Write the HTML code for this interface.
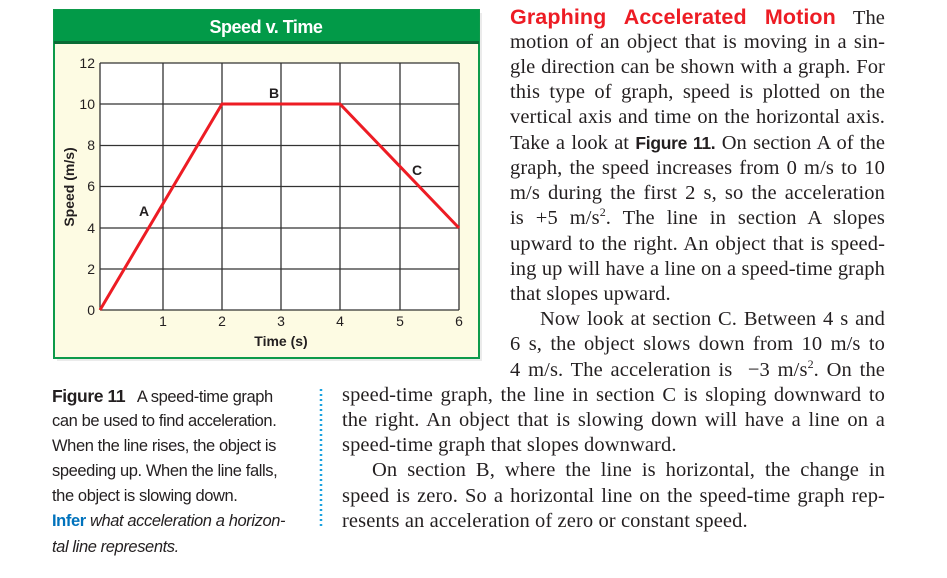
<!DOCTYPE html>
<html><head><meta charset="utf-8"><style>
body{margin:0;width:947px;height:578px;background:#fff;position:relative;overflow:hidden;font-family:"Liberation Serif",serif;color:#231f20}
.l{position:absolute;font-size:20.5px;line-height:25px;white-space:nowrap;text-align:justify;text-align-last:justify;letter-spacing:0.1px}
.r{left:510px;width:375px}
.w{left:342px;width:543px}
.nj{text-align-last:left}
.c{position:absolute;left:52px;font-family:"Liberation Sans",sans-serif;font-size:16.5px;line-height:25px;white-space:nowrap;letter-spacing:-0.4px}
.sf{font-family:"Liberation Sans",sans-serif;font-weight:bold}
</style></head><body>
<svg width="947" height="578" style="position:absolute;left:0;top:0">
<rect x="57" y="13" width="425" height="348" fill="#ddd" opacity="0.6"/>
<rect x="54" y="10" width="425" height="348" fill="#fdfbe3" stroke="#0d9a4a" stroke-width="2"/>
<rect x="54" y="10" width="425" height="33" fill="#029a48"/>
<rect x="54" y="41" width="425" height="3" fill="#0a6b35"/>
<text x="266" y="33" text-anchor="middle" font-family="Liberation Sans" font-weight="bold" font-size="18" fill="#fff" letter-spacing="-0.5">Speed v. Time</text>
<rect x="100" y="63" width="359" height="247" fill="#fff"/>
<g stroke="#333" stroke-width="1.3">
<line x1="100" y1="63" x2="459" y2="63"/><line x1="100" y1="104" x2="459" y2="104"/><line x1="100" y1="145.5" x2="459" y2="145.5"/><line x1="100" y1="186.5" x2="459" y2="186.5"/><line x1="100" y1="228" x2="459" y2="228"/><line x1="100" y1="269" x2="459" y2="269"/><line x1="100" y1="310" x2="459" y2="310"/>
<line x1="100" y1="63" x2="100" y2="310"/><line x1="163" y1="63" x2="163" y2="310"/><line x1="222" y1="63" x2="222" y2="310"/><line x1="281" y1="63" x2="281" y2="310"/><line x1="340" y1="63" x2="340" y2="310"/><line x1="400" y1="63" x2="400" y2="310"/><line x1="459" y1="63" x2="459" y2="310"/>
</g>
<polyline points="100,310 222,104 340,104 459,228" fill="none" stroke="#ed1c24" stroke-width="3"/>
<g font-family="Liberation Sans" font-size="14" fill="#231f20" text-anchor="end">
<text x="95" y="68">12</text><text x="95" y="109">10</text><text x="95" y="150">8</text><text x="95" y="191">6</text><text x="95" y="233">4</text><text x="95" y="274">2</text><text x="95" y="315">0</text>
</g>
<g font-family="Liberation Sans" font-size="14" fill="#231f20" text-anchor="middle">
<text x="163" y="326">1</text><text x="222" y="326">2</text><text x="281" y="326">3</text><text x="340" y="326">4</text><text x="400" y="326">5</text><text x="459" y="326">6</text>
</g>
<g font-family="Liberation Sans" font-weight="bold" font-size="14" fill="#231f20">
<text x="281" y="346" text-anchor="middle">Time (s)</text>
<text transform="translate(74,187) rotate(-90)" text-anchor="middle">Speed (m/s)</text>
<text x="144" y="216" text-anchor="middle">A</text><text x="274" y="98" text-anchor="middle">B</text><text x="417" y="175" text-anchor="middle">C</text>
</g>
<line x1="321" y1="389" x2="321" y2="528" stroke="#1ba3e0" stroke-width="2.5" stroke-dasharray="2,3"/>
</svg>
<div class="l r" style="top:5px"><span class="sf" style="color:#ed1c24;font-size:21.5px">Graphing Accelerated Motion</span> The</div>
<div class="l r" style="top:30px">motion of an object that is moving in a sin-</div>
<div class="l r" style="top:55px">gle direction can be shown with a graph. For</div>
<div class="l r" style="top:80px">this type of graph, speed is plotted on the</div>
<div class="l r" style="top:105px">vertical axis and time on the horizontal axis.</div>
<div class="l r" style="top:131px;letter-spacing:0">Take a look at <span class="sf" style="font-size:17.5px;letter-spacing:-0.3px">Figure 11.</span> On section A of the</div>
<div class="l r" style="top:156px">graph, the speed increases from 0 m/s to 10</div>
<div class="l r" style="top:181px">m/s during the first 2 s, so the acceleration</div>
<div class="l r" style="top:206px">is +5 m/s<sup style="font-size:12px;line-height:0">2</sup>. The line in section A slopes</div>
<div class="l r" style="top:232px">upward to the right. An object that is speed-</div>
<div class="l r" style="top:257px">ing up will have a line on a speed-time graph</div>
<div class="l r nj" style="top:282px">that slopes upward.</div>
<div class="l r" style="top:307px;padding-left:30px;width:345px">Now look at section C. Between 4 s and</div>
<div class="l r" style="top:332px">6 s, the object slows down from 10 m/s to</div>
<div class="l r" style="top:358px">4 m/s. The acceleration is &nbsp;−3 m/s<sup style="font-size:12px;line-height:0">2</sup>. On the</div>
<div class="l w" style="top:383px">speed-time graph, the line in section C is sloping downward to</div>
<div class="l w" style="top:408px">the right. An object that is slowing down will have a line on a</div>
<div class="l w nj" style="top:433px">speed-time graph that slopes downward.</div>
<div class="l w" style="top:458px;padding-left:30px;width:513px">On section B, where the line is horizontal, the change in</div>
<div class="l w" style="top:484px">speed is zero. So a horizontal line on the speed-time graph rep-</div>
<div class="l w nj" style="top:509px">resents an acceleration of zero or constant speed.</div>
<div class="c" style="top:384px"><b style="font-size:17.5px">Figure 11</b>&nbsp;&nbsp; A speed-time graph</div>
<div class="c" style="top:409px">can be used to find acceleration.</div>
<div class="c" style="top:434px">When the line rises, the object is</div>
<div class="c" style="top:459px">speeding up. When the line falls,</div>
<div class="c" style="top:484px">the object is slowing down.</div>
<div class="c" style="top:509px"><b style="color:#0072bc">Infer</b> <i>what acceleration a horizon-</i></div>
<div class="c" style="top:535px"><i>tal line represents.</i></div>
</body></html>
